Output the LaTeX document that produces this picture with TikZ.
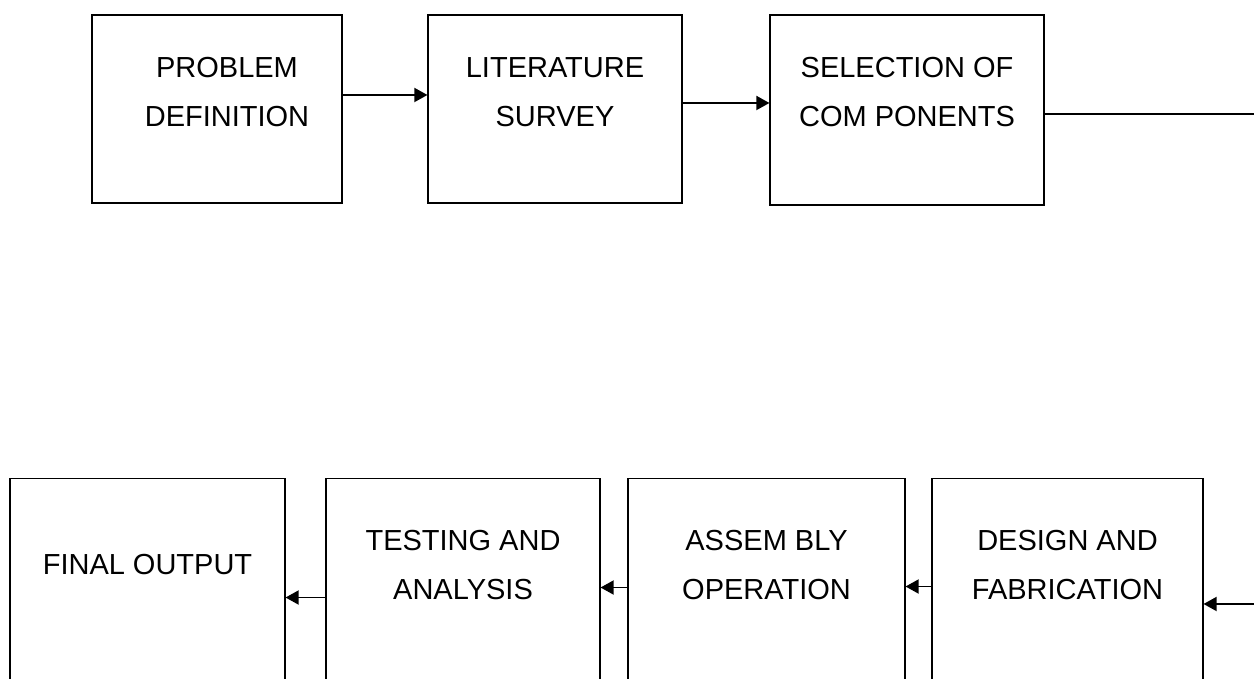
\documentclass[tikz,border=0pt]{standalone}
\usepackage{fontspec}
\setmainfont{Liberation Sans}
\usetikzlibrary{arrows.meta,positioning,calc}

\begin{document}
\begin{tikzpicture}[
    stage/.style={draw,line width=0.6pt,inner sep=0pt},
    lbl/.style={inner sep=0pt,align=center,font=\fontsize{16.5}{28}\selectfont},
    arr/.style={-{Triangle[length=7.5pt,width=8pt]},line width=1.1pt},
    flow/.style={line width=1.1pt}
  ]
                \useasboundingbox (0,0) rectangle (25.08,13.58);

                % Top row
                \node[stage,minimum width=5cm,minimum height=3.76cm] (prob) at (4.34,11.4) {};
                \node[stage,minimum width=5.08cm,minimum height=3.76cm] (lit) at (11.1,11.4) {};
                \node[stage,minimum width=5.48cm,minimum height=3.8cm] (sel) at (18.14,11.38) {};
                \node[lbl] (probtxt) at ([xshift=2mm,yshift=-15.5mm]prob.north) {PROBLEM\\DEFINITION};
                \node[lbl] (littxt) at ([yshift=-15.5mm]lit.north) {LITERATURE\\SURVEY};
                \node[lbl] (seltxt) at ([yshift=-15.5mm]sel.north) {SELECTION OF\\COM PONENTS};
                \coordinate (selout) at (25.2,11.3);

                % Bottom row (boxes run off the page)
                \node[stage,minimum width=5.5cm,minimum height=4.6cm,anchor=north] (final) at (2.95,4.02) {};
                \node[stage,minimum width=5.48cm,minimum height=4.6cm,anchor=north] (test) at (9.26,4.02) {};
                \node[stage,minimum width=5.54cm,minimum height=4.6cm,anchor=north] (asm) at (15.33,4.02) {};
                \node[stage,minimum width=5.42cm,minimum height=4.6cm,anchor=north] (des) at (21.35,4.02) {};
                \node[lbl] (finaltxt) at ([yshift=-17.4mm]final.north) {FINAL OUTPUT};
                \node[lbl] (testtxt) at ([yshift=-17.4mm]test.north) {TESTING AND\\ANALYSIS};
                \node[lbl] (asmtxt) at ([yshift=-17.4mm]asm.north) {ASSEM BLY\\OPERATION};
                \node[lbl] (destxt) at ([yshift=-17.4mm]des.north) {DESIGN AND\\FABRICATION};
                \coordinate (desin) at (25.2,1.5);

                % Arrows
                \draw[arr] ([yshift=2.8mm]prob.east) -- ([yshift=2.8mm]lit.west);
                \draw[arr] ([yshift=1.2mm]lit.east) -- ([yshift=1.2mm]lit.east -| sel.west);
                \draw[flow] (selout -| sel.east) -- (selout);
                \draw[arr] (desin) -- (desin -| des.east);
                \draw[arr] ([yshift=1.4mm]des.west) -- ([yshift=1.4mm]asm.east);
                \draw[arr] ([yshift=1.2mm]asm.west) -- ([yshift=1.2mm]test.east);
                \draw[arr] ([yshift=-0.8mm]test.west) -- ([yshift=-0.8mm]final.east);
            \end{tikzpicture}
\end{document}
